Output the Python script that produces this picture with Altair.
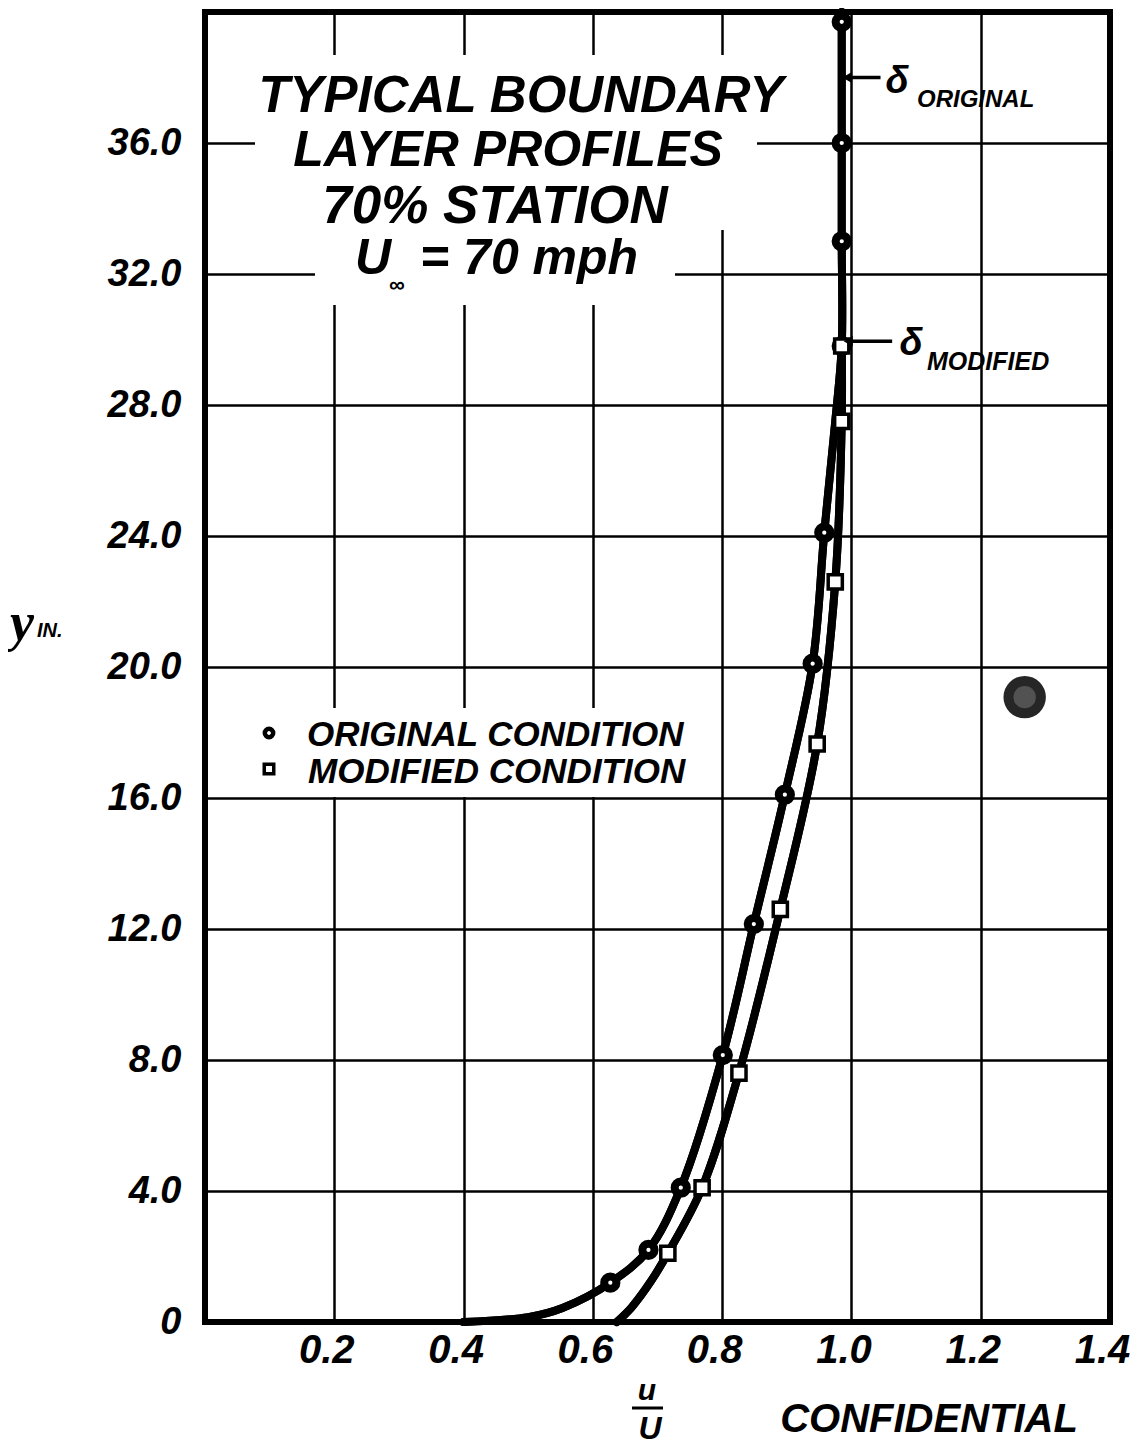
import altair as alt
import pandas as pd

# ---- data ----
orig_u = [0.627, 0.686, 0.736, 0.801, 0.849, 0.897, 0.940, 0.958, 0.985, 0.985, 0.985, 0.985]
orig_y = [1.2, 2.2, 4.1, 8.15, 12.15, 16.1, 20.1, 24.1, 29.8, 33.0, 36.0, 39.7]
mod_u = [0.716, 0.769, 0.826, 0.890, 0.947, 0.975, 0.985, 0.985]
mod_y = [2.1, 4.1, 7.6, 12.6, 17.65, 22.6, 27.5, 29.8]

# faired curves (including the run-out to the wall and the edge)
orig_curve_u = [0.40, 0.50, 0.553] + orig_u[:8] + [0.975] + orig_u[8:] + [0.985]
orig_curve_y = [0.0, 0.15, 0.43] + orig_y[:8] + [27.5] + orig_y[8:] + [40.0]
mod_curve_u = [0.637, 0.660, 0.690] + mod_u
mod_curve_y = [0.0, 0.45, 1.25] + mod_y

# boundary layer thickness markers
delta_y = [38.0, 29.95]
delta_u0 = [0.993, 0.995]
delta_u1 = [1.045, 1.063]

x_ticks = [0.2, 0.4, 0.6, 0.8, 1.0, 1.2, 1.4]
y_ticks = [0, 4, 8, 12, 16, 20, 24, 28, 32, 36]

stamp_u = [1.268]
stamp_y = [19.08]

FONT = "Liberation Sans"
W, H = 905, 1310

xs = alt.Scale(domain=[0, 1.4], nice=False, zero=False)
ys = alt.Scale(domain=[0, 40], nice=False, zero=False)

xax = alt.Axis(values=x_ticks, format=".1f", grid=True, domain=False, ticks=False,
               labelFont=FONT, labelFontSize=40, labelFontStyle="italic", labelFontWeight="bold",
               labelColor="black", labelPadding=8, labelOffset=-8, gridColor="black",
               gridWidth=2.5, gridOpacity=1, title=None, labelFlush=False)
yax = alt.Axis(values=y_ticks, grid=True, domain=False, ticks=False,
               labelExpr="datum.value == 0 ? '0' : format(datum.value, '.1f')",
               labelFont=FONT, labelFontSize=38, labelFontStyle="italic", labelFontWeight="bold",
               labelColor="black", labelPadding=24, gridColor="black", gridWidth=2.5,
               gridOpacity=1, title=None, labelFlush=False)

curves = pd.DataFrame({
    "u": orig_curve_u + mod_curve_u,
    "y": orig_curve_y + mod_curve_y,
    "s": ["orig"] * len(orig_curve_u) + ["mod"] * len(mod_curve_u),
})
orig_df = pd.DataFrame({"u": orig_u, "y": orig_y})
mod_df = pd.DataFrame({"u": mod_u, "y": mod_y})
delta_df = pd.DataFrame({"y": delta_y, "u0": delta_u0, "u1": delta_u1})
stamp_df = pd.DataFrame({"u": stamp_u, "y": stamp_y})

base = alt.Chart(curves).mark_line(
    interpolate="catmull-rom", strokeWidth=8, color="black", strokeCap="round", strokeJoin="round"
).encode(
    x=alt.X("u:Q", scale=xs, axis=xax),
    y=alt.Y("y:Q", scale=ys, axis=yax),
    detail="s:N",
    order="y:Q",
)

one = pd.DataFrame({"k": [0]})


def wrect(x1, x2, y1, y2):
    return alt.Chart(one).mark_rect(color="white").encode(
        x=alt.value(x1), x2=alt.value(x2), y=alt.value(y1), y2=alt.value(y2))


def txt(t, px, py, size, align="left", style="italic", weight="bold", font=FONT, baseline="alphabetic"):
    return alt.Chart(pd.DataFrame({"t": [t]})).mark_text(
        font=font, fontSize=size, fontStyle=style, fontWeight=weight, color="black",
        align=align, baseline=baseline
    ).encode(x=alt.value(px), y=alt.value(py), text="t:N")


rects = [
    wrect(45, 587, 43, 108),
    wrect(50, 552, 108, 218),
    wrect(110, 470, 206, 293),
    wrect(50, 507, 696, 785),
]

frame = alt.Chart(one).mark_rect(fillOpacity=0, stroke="black", strokeWidth=6).encode(
    x=alt.value(0), x2=alt.value(W), y=alt.value(0), y2=alt.value(H))

orig_pts = alt.Chart(orig_df).mark_point(
    shape="circle", filled=True, fill="white", stroke="black", strokeWidth=8, size=150, opacity=1
).encode(x=alt.X("u:Q", scale=xs), y=alt.Y("y:Q", scale=ys))

mod_pts = alt.Chart(mod_df).mark_point(
    shape="square", filled=True, fill="white", stroke="black", strokeWidth=3.5, size=200, opacity=1
).encode(x=alt.X("u:Q", scale=xs), y=alt.Y("y:Q", scale=ys))

arrows = alt.Chart(delta_df).mark_rule(color="black", strokeWidth=3.5).encode(
    x=alt.X("u0:Q", scale=xs), x2="u1:Q", y=alt.Y("y:Q", scale=ys))
heads = alt.Chart(delta_df).mark_point(
    shape="triangle-left", filled=True, color="black", size=110, opacity=1
).encode(x=alt.X("u0:Q", scale=xs), y=alt.Y("y:Q", scale=ys))

stamp = alt.Chart(stamp_df).mark_point(
    shape="circle", filled=True, color="#262626", size=1800, opacity=1
).encode(x=alt.X("u:Q", scale=xs), y=alt.Y("y:Q", scale=ys))
stamp2 = alt.Chart(stamp_df).mark_point(
    shape="circle", filled=True, color="#8a8a8a", size=500, opacity=0.45
).encode(x=alt.X("u:Q", scale=xs), y=alt.Y("y:Q", scale=ys))

legend_pts = [
    alt.Chart(one).mark_point(shape="circle", filled=True, fill="white", stroke="black",
                              strokeWidth=4.5, size=70, opacity=1).encode(
        x=alt.value(64), y=alt.value(721)),
    alt.Chart(one).mark_point(shape="square", filled=True, fill="white", stroke="black",
                              strokeWidth=3.5, size=90, opacity=1).encode(
        x=alt.value(64), y=alt.value(757)),
]

bar = alt.Chart(one).mark_rule(color="black", strokeWidth=3).encode(
    x=alt.value(427), x2=alt.value(458), y=alt.value(1396))

texts = [
    txt("TYPICAL BOUNDARY", 316, 100, 51, align="center"),
    txt("LAYER PROFILES", 303, 154, 50, align="center"),
    txt("70% STATION", 290, 211, 53, align="center"),
    txt("U", 150, 262, 50),
    txt("∞", 184, 280, 22),
    txt("= 70 mph", 215, 262, 50),
    txt("ORIGINAL CONDITION", 102, 734, 35),
    txt("MODIFIED CONDITION", 103, 771, 35),
    txt("δ", 692, 81, 38, align="center"),
    txt("ORIGINAL", 712, 95, 24),
    txt("δ", 706, 343, 38, align="center"),
    txt("MODIFIED", 722, 358, 25),
    txt("y", -195, 628, 54, font="Liberation Serif"),
    txt("IN.", -168, 625, 20),
    txt("u", 442, 1388, 30, align="center"),
    txt("U", 445, 1427, 32, align="center"),
    txt("CONFIDENTIAL", 724, 1420, 40, align="center"),
]

chart = alt.layer(
    base, *rects, base, frame, orig_pts, mod_pts, arrows, heads, stamp, stamp2, *legend_pts, bar, *texts
).properties(
    width=W, height=H,
    padding={"left": 197, "top": 4, "right": 26, "bottom": 125},
    autosize=alt.AutoSizeParams(type="none"),
).configure_view(strokeWidth=0).configure(background="white")

chart.save("out.html", embed_options={"renderer": "svg", "actions": False})
